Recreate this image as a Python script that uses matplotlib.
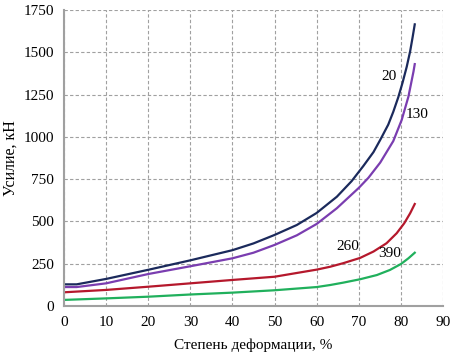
import matplotlib.pyplot as plt
import numpy as np

plt.rcParams['font.family'] = ['Liberation Serif', 'DejaVu Serif']

# степень деформации, % / усилие, кН  (кривые при 20, 130, 260, 390)
x20 = [0, 3, 10, 20, 30, 40, 45, 50, 55.3, 60, 64.8, 68.3, 71.1, 73.5, 75.1,
       77.0, 78.2, 79.4, 80.4, 81.4, 82.2, 82.8, 83.3]
y20 = [128, 128, 160, 214, 270, 330, 370, 420, 479, 550, 646, 738, 828, 910, 982,
       1072, 1148, 1235, 1320, 1415, 1505, 1590, 1665]

x130 = [0, 3, 10, 20, 30, 40, 45, 50, 55.3, 60, 64.8, 70, 72.3, 75.1, 78.2,
        80.2, 81.8, 83.0, 83.3]
y130 = [112, 112, 134, 189, 235, 282, 315, 361, 418, 485, 578, 698, 758, 848, 975,
        1100, 1238, 1386, 1430]

x260 = [0, 10, 20, 30, 40, 50, 60, 63.2, 66.3, 70.3, 73.5, 76.6, 79.0, 80.8, 82.2, 83.3]
y260 = [81, 95, 114, 134, 154, 173, 215, 232, 253, 284, 322, 371, 430, 489, 548, 603]

x390 = [0, 10, 20, 30, 40, 50, 60, 63.2, 66.3, 70.3, 74.3, 77.4, 80, 81.8, 83.3]
y390 = [36, 45, 55, 68, 79, 93, 112, 124, 138, 158, 183, 213, 248, 282, 315]

fig = plt.figure(figsize=(4.52, 3.62), dpi=100)
ax = fig.add_axes([0.1416, 0.1547, 0.8384, 0.8177])

ax.plot(x20, y20, color="#1b2a5c", lw=1.6)
ax.plot(x130, y130, color="#7a3db0", lw=1.6)
ax.plot(x260, y260, color="#b5182c", lw=1.6)
ax.plot(x390, y390, color="#20b05c", lw=1.6)

ax.text(77.2, 1355, "20", fontsize=11, ha="center", va="center")
ax.text(83.8, 1135, "130", fontsize=11, ha="center", va="center")
ax.text(67.3, 351, "260", fontsize=11, ha="center", va="center")
ax.text(77.3, 312, "390", fontsize=11, ha="center", va="center")

ax.set_xlim(0, 90)
ax.set_ylim(0, 1750)
ax.set_xticks(np.arange(0, 91, 10))
ax.set_yticks(np.arange(0, 1751, 250))
ax.tick_params(length=0, labelsize=11, pad=7)
ax.grid(True, color="#a0a0a0", linestyle=(0, (3, 2)), linewidth=0.8)
for s in ["top", "right"]:
    ax.spines[s].set_visible(False)
for s in ["left", "bottom"]:
    ax.spines[s].set_color("#a0a0a0")
    ax.spines[s].set_linewidth(1.5)

ax.set_xlabel("Степень деформации, %", fontsize=11, labelpad=7)
ax.set_ylabel("Усилие, кН", fontsize=11.5, labelpad=4)

fig.savefig("out.png", dpi=100)
